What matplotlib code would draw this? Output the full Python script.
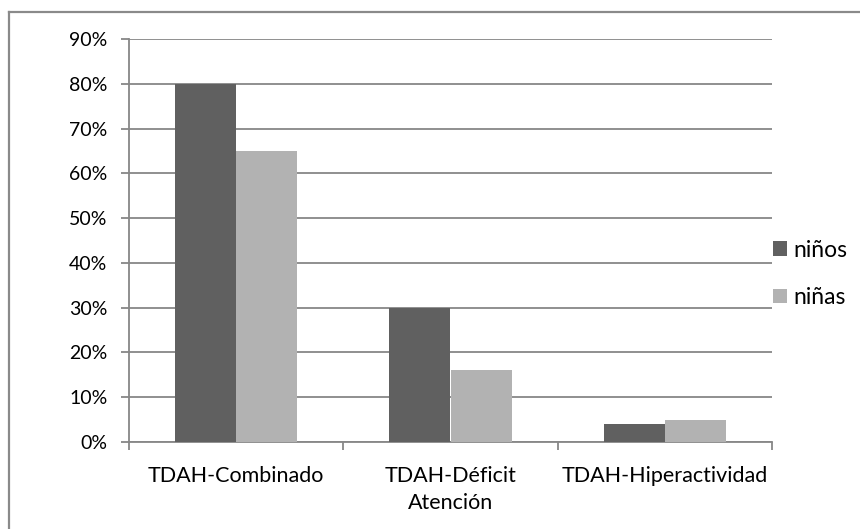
import matplotlib
matplotlib.use("Agg")
import matplotlib.pyplot as plt
from matplotlib.lines import Line2D
import numpy as np

categories = ["TDAH-Combinado", "TDAH-Déficit\nAtención", "TDAH-Hiperactividad"]
ninos = [80, 30, 4]
ninas = [65, 16, 5]
series_labels = ["niños", "niñas"]
y_ticks = [0, 10, 20, 30, 40, 50, 60, 70, 80, 90]

plt.rcParams["font.family"] = ["Lato", "DejaVu Sans"]

W, H = 860, 529
fig = plt.figure(figsize=(W / 100, H / 100), dpi=100)
ax = fig.add_axes([129 / W, (H - 442) / H, (772 - 129) / W, (442 - 39) / H])

dark = "#606060"
light = "#b2b2b2"
grid = "#878787"

x = np.arange(len(categories))
bw = 1 / 3.5
ax.bar(x - bw / 2, ninos, bw, color=dark, label=series_labels[0], zorder=3)
ax.bar(x + bw / 2, ninas, bw, color=light, label=series_labels[1], zorder=3)

ax.set_xlim(-0.5, len(categories) - 0.5)
ax.set_ylim(0, 90)
ax.set_yticks(y_ticks)
ax.set_yticklabels([f"{v}%" for v in y_ticks])
ax.yaxis.grid(True, color=grid, linewidth=1.3, zorder=0)
ax.set_axisbelow(True)

ax.set_xticks(x)
ax.set_xticklabels(categories, linespacing=1.45)
ax.set_xticks(np.arange(len(categories) + 1) - 0.5, minor=True)
ax.tick_params(axis="x", which="major", length=0, pad=17, labelsize=15.5)
ax.tick_params(axis="x", which="minor", length=5.5, width=1.3, color=grid, direction="out")
ax.tick_params(axis="y", length=5.5, width=1.3, color=grid, pad=10, labelsize=14)

for s in ["top", "right"]:
    ax.spines[s].set_visible(False)
for s in ["left", "bottom"]:
    ax.spines[s].set_color(grid)
    ax.spines[s].set_linewidth(1.3)

ax.legend(loc="center left", bbox_to_anchor=(773 / W, (H - 274) / H),
          bbox_transform=fig.transFigure, frameon=False, fontsize=16.5,
          handlelength=0.61, handleheight=0.61, handletextpad=0.3,
          labelspacing=1.15, borderaxespad=0, borderpad=0)

# outer chart frame
fig.add_artist(Line2D([8.5 / W, 1], [(H - 12) / H] * 2, transform=fig.transFigure,
                      color="#8a8a8a", linewidth=1.6))
fig.add_artist(Line2D([8.5 / W] * 2, [0, (H - 12) / H], transform=fig.transFigure,
                      color="#8a8a8a", linewidth=1.6))

fig.savefig("out.png", dpi=100, facecolor="white")
